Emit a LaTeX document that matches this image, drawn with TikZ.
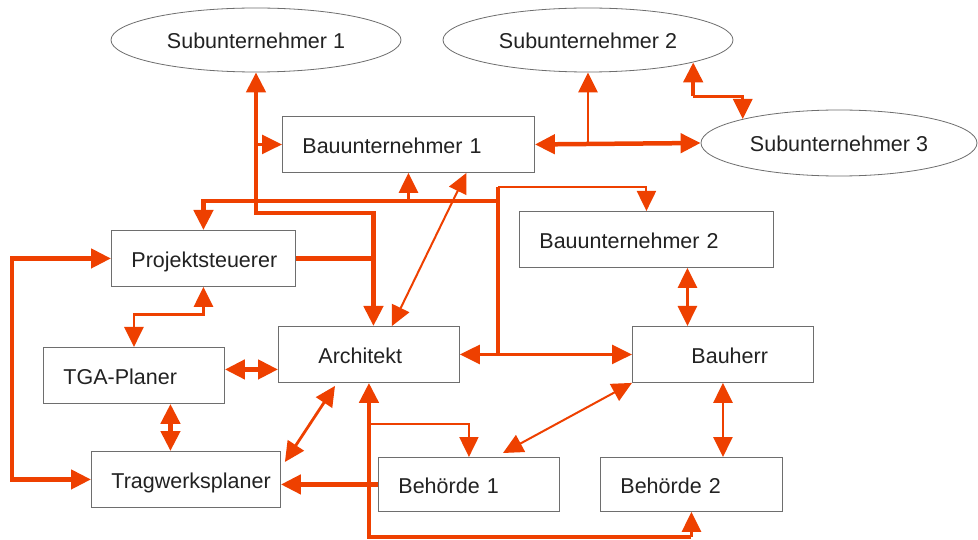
\documentclass[tikz,border=0pt]{standalone}
\usepackage{fontspec}
\setmainfont{Liberation Sans}
\usetikzlibrary{arrows.meta,shapes.geometric}

\definecolor{linkred}{RGB}{238,64,0}
\definecolor{boxgray}{RGB}{110,110,110}
\definecolor{textgray}{RGB}{34,34,34}

\begin{document}
\begin{tikzpicture}[x=1pt, y=-1pt,
    >={Triangle[length=20pt, width=19pt]},
    label font/.style={font=\fontsize{21.5}{24}\selectfont, text=textgray, text height=19pt, text depth=1pt},
    box/.style={draw=boxgray, line width=0.9pt, anchor=north west, minimum height=56pt,
        inner xsep=0pt, inner ysep=0pt, text width=#1, align=left, label font,
        execute at begin node={\hspace*{20pt}}},
    sub/.style={ellipse, draw=boxgray, line width=0.8pt, minimum width=290pt, minimum height=64pt,
        inner sep=0pt, label font},
    link/.style={draw=linkred, line width=2.8pt},
    heavy/.style={link, line width=4.5pt},
    light/.style={link, line width=2pt}]

% canvas
\fill[white] (0,0) rectangle (978,540);

% subcontractors
\node[sub] (sub1) at (256,40) {Subunternehmer 1};
\node[sub] (sub2) at (588,40) {Subunternehmer 2};
\node[sub, minimum width=276pt, minimum height=66pt] (sub3) at (839,143) {Subunternehmer 3};

% parties
\node[box=252pt] (bu1) at (282,116) {Bauunternehmer 1};
\node[box=184pt] (proj) at (111,230) {Projektsteuerer};
\node[box=254pt] (bu2) at (519,211) {Bauunternehmer 2};
\node[box=181pt] (tga) at (43,347) {TGA-Planer};
\node[box=181pt] (arch) at (278,326) {\hspace*{20pt}Architekt};
\node[box=181pt] (herr) at (632,326) {\hspace*{39pt}Bauherr};
\node[box=189pt] (trag) at (91,451) {Tragwerksplaner};
\node[box=181pt, minimum height=54pt] (beh1) at (378,457) {Behörde 1};
\node[box=182pt, minimum height=54pt] (beh2) at (600,457) {Behörde 2};

% bend points
\coordinate (upper) at (0,213);
\coordinate (hub) at (498,201);
\coordinate (riser) at (498,187);
\coordinate (loop) at (12,0);
\coordinate (base) at (0,537);
\coordinate (fork) at (0,424);
\coordinate (archin) at ([xshift=4.5pt]arch.north);
\coordinate (tgar) at ([yshift=6pt]tga.east);
\coordinate (tgab) at ([xshift=36.5pt]tga.south);
\coordinate (bu2b) at ([xshift=41pt]bu2.south);
\coordinate (s2bend) at ([yshift=-34pt]sub2.-12);

% Subunternehmer 1 -- Architekt
\draw[heavy, <->] (sub1.south) |- (archin |- upper) -- (archin);
\draw[link, ->] (sub1.south |- bu1.west) -- (bu1.west);
\draw[heavy] (proj.east) -- (proj.east -| archin);

% Bauunternehmer 1 -- Subunternehmer 2/3
\draw[heavy, <->] (bu1.east) -- (sub3.west);
\draw[link, ->] (sub2.south |- bu1.east) -- (sub2.south);
\draw[heavy, <-] (sub2.-12) -- (s2bend);
\draw[link, ->] (s2bend) -| (sub3.166);

% trunk to Bauunternehmer 2 and Bauherr
\draw[heavy, ->] (hub) -| (proj.north);
\draw[link, ->] (bu1.south |- hub) -- (bu1.south);
\draw[heavy] (riser) -- (riser |- arch.east);
\draw[light, ->] (riser) -| (bu2.north);
\draw[link, <->] (arch.east) -- (herr.west);
\draw[light, <->] ([xshift=58pt]bu1.south) -- ([xshift=23pt]arch.north);

% planners
\draw[heavy, <->] (proj.west) -- (proj.west -| loop) |- (trag.west);
\draw[link, <->] (proj.south) -- ++(0,28) -| (tga.north);
\draw[heavy, <->] (tgar) -- (tgar -| arch.west);
\draw[heavy, <->] (tgab) -- (tgab |- trag.north);
\draw[link, <->] ([xshift=4pt, yshift=-11pt]trag.north east) -- ([xshift=57pt, yshift=-3pt]arch.south west);
\draw[heavy, ->] (beh1.west) -- (beh1.west -| trag.east);

% authorities
\draw[heavy, <-] (arch.south) |- (beh2.south |- base);
\draw[link, ->] (beh2.south |- base) -- (beh2.south);
\draw[light, ->] (arch.south |- fork) -| (beh1.north);
\draw[light, <->] (herr.south west) -- ([xshift=125pt, yshift=4pt]beh1.north west);
\draw[link, <->] (bu2b) -- (bu2b |- herr.north);
\draw[link, <->] (herr.south) -- (herr.south |- beh2.north);
\end{tikzpicture}
\end{document}
